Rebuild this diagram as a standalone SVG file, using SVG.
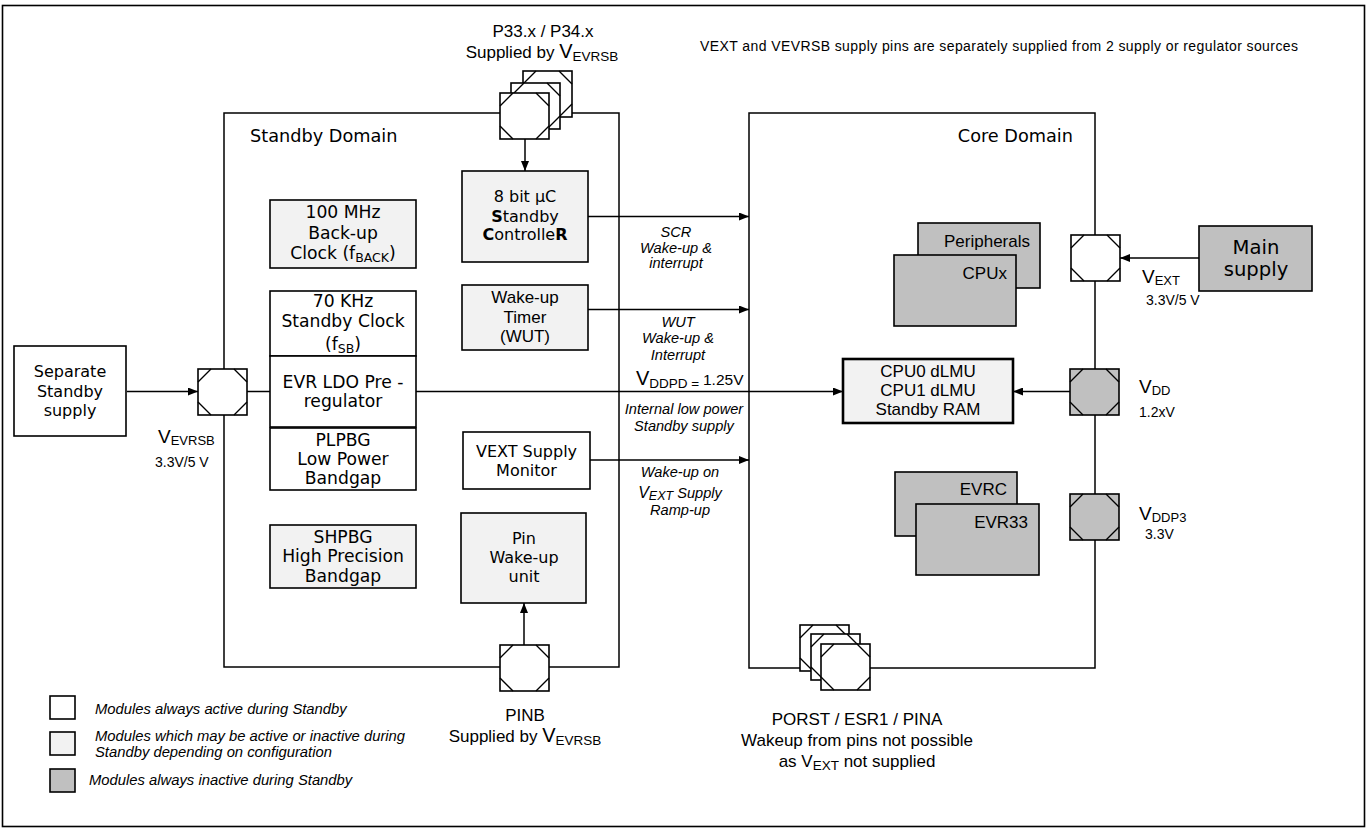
<svg xmlns="http://www.w3.org/2000/svg" width="1370" height="832" viewBox="0 0 1370 832">
<style>
.v{font-family:"DejaVu Sans",Verdana,sans-serif;font-size:16px;fill:#000}
.k{font-size:17.2px}
.t{font-size:17.7px}
.m{font-size:19.6px}
.a{font-family:"Liberation Sans",Arial,sans-serif;font-size:17px;fill:#000}
.i{font-family:"Liberation Sans",Arial,sans-serif;font-size:14.6px;font-style:italic;fill:#000}
.g{font-family:"Liberation Sans",Arial,sans-serif;font-size:14.8px;font-style:italic;fill:#000}
.s{font-family:"Liberation Sans",Arial,sans-serif;font-size:14px;fill:#000}
.c{text-anchor:middle}
.e{text-anchor:end}
.box{stroke:#000;stroke-width:1.6}
.w{fill:#fff}.l{fill:#f2f2f2}.d{fill:#c0c0c0}
.dom{fill:none;stroke:#000;stroke-width:1.5}
.ln{fill:none;stroke:#000;stroke-width:1.5}
</style>
<defs>
<marker id="ah" viewBox="0 0 10 8" refX="10" refY="4" markerWidth="10" markerHeight="8" markerUnits="userSpaceOnUse" orient="auto"><path d="M0,0L10,4L0,8z" fill="#000"/></marker>
<g id="pin"><rect x="0" y="0" width="49" height="46" stroke="#000" stroke-width="1.6"/><path d="M0,13L13,0M36,0L49,13M0,33L13,46M36,46L49,33" stroke="#000" stroke-width="1.4" fill="none"/></g>
</defs>
<rect x="0" y="0" width="1370" height="832" fill="#fff"/>
<rect x="2.5" y="5.5" width="1362" height="821" fill="none" stroke="#000" stroke-width="1.6"/>

<g id="standby-domain"><rect x="224" y="113" width="395" height="554" class="dom"/><text class="v t" x="250" y="142">Standby Domain</text></g>
<g id="core-domain"><rect x="749" y="113" width="346" height="555" class="dom"/><text class="v t e" x="1073" y="142">Core Domain</text></g>

<g id="connectors">
<path class="ln" d="M525,139V171" marker-end="url(#ah)"/>
<path class="ln" d="M588,216.5H749" marker-end="url(#ah)"/>
<path class="ln" d="M588,309.5H749" marker-end="url(#ah)"/>
<path class="ln" d="M590,460H749" marker-end="url(#ah)"/>
<path class="ln" d="M416,391.5H843" marker-end="url(#ah)"/>
<path class="ln" d="M247,391.5H270"/>
<path class="ln" d="M127,391.5H198" marker-end="url(#ah)"/>
<path class="ln" d="M524,645V603" marker-end="url(#ah)"/>
<path class="ln" d="M1199,258H1120" marker-end="url(#ah)"/>
<path class="ln" d="M1070,391.5H1013" marker-end="url(#ah)"/>
</g>

<g id="sep-supply"><rect x="14" y="346" width="112" height="90" class="box w"/><text class="v c" x="70" y="377">Separate</text><text class="v c" x="70" y="397">Standby</text><text class="v c" x="70" y="416">supply</text></g>
<g id="pin-vevrsb"><use href="#pin" x="198" y="369" fill="#fff"/><text class="a" x="158" y="443"><tspan font-size="19">V</tspan><tspan font-size="13" dy="2">EVRSB</tspan></text><text class="s" x="155" y="467">3.3V/5 V</text></g>

<g id="backup-clock"><rect x="270" y="200" width="146" height="68" class="box l"/><text class="v k c" x="343" y="218">100 MHz</text><text class="v k c" x="343" y="239">Back-up</text><text class="v k c" x="343" y="259">Clock (f<tspan font-size="12.5" dy="3">BACK</tspan><tspan dy="-3">)</tspan></text></g>
<g id="standby-clock"><rect x="270" y="291" width="146" height="65" class="box w"/><text class="v k c" x="343" y="307">70 KHz</text><text class="v k c" x="343" y="327">Standby Clock</text><text class="v k c" x="343" y="350">(f<tspan font-size="12.5" dy="3">SB</tspan><tspan dy="-3">)</tspan></text></g>
<g id="evr-ldo"><rect x="270" y="356" width="146" height="71" class="box w"/><text class="v k c" x="343" y="388">EVR LDO Pre -</text><text class="v k c" x="343" y="407">regulator</text></g>
<g id="plpbg"><rect x="270" y="428" width="146" height="62" class="box w"/><text class="v k c" x="343" y="446">PLPBG</text><text class="v k c" x="343" y="465">Low Power</text><text class="v k c" x="343" y="484">Bandgap</text></g>
<g id="shpbg"><rect x="270" y="525" width="146" height="63" class="box l"/><text class="v k c" x="343" y="543">SHPBG</text><text class="v k c" x="343" y="562">High Precision</text><text class="v k c" x="343" y="582">Bandgap</text></g>
<g id="scr"><rect x="462" y="171" width="126" height="91" class="box l"/><text class="v c" x="525" y="202">8 bit µC</text><text class="v c" x="525" y="222"><tspan font-weight="bold">S</tspan>tandby</text><text class="v c" x="525" y="240"><tspan font-weight="bold">C</tspan>ontrolle<tspan font-weight="bold">R</tspan></text></g>
<g id="wut"><rect x="462" y="285" width="126" height="65" class="box l"/><text class="a c" x="525" y="303">Wake-up</text><text class="a c" x="525" y="323">Timer</text><text class="a c" x="525" y="342">(WUT)</text></g>
<g id="vext-monitor"><rect x="463" y="432" width="127" height="57" class="box w"/><text class="v c" x="526.5" y="457">VEXT Supply</text><text class="v c" x="526.5" y="476">Monitor</text></g>
<g id="pin-wakeup"><rect x="461" y="513" width="125" height="90" class="box l"/><text class="v c" x="524" y="544">Pin</text><text class="v c" x="524" y="563">Wake-up</text><text class="v c" x="524" y="582">unit</text></g>

<g id="pins-p33"><use href="#pin" x="523" y="71" fill="#fff"/><use href="#pin" x="511" y="83" fill="#fff"/><use href="#pin" x="500" y="93" fill="#fff"/>
<text class="a c" x="543" y="37">P33.x / P34.x</text><text class="a c" x="542" y="58">Supplied by <tspan font-size="20">V</tspan><tspan font-size="13.5" dy="3">EVRSB</tspan></text></g>
<g id="pin-pinb"><use href="#pin" x="500" y="645" fill="#fff"/><text class="a c" x="525" y="721">PINB</text><text class="a c" x="525" y="742">Supplied by <tspan font-size="20">V</tspan><tspan font-size="13.5" dy="3">EVRSB</tspan></text></g>

<g id="peripherals"><rect x="918" y="223" width="122" height="65" class="box d"/><text class="a e" x="1030" y="247">Peripherals</text></g>
<g id="cpux"><rect x="894" y="255" width="122" height="71" class="box d"/><text class="a e" x="1007" y="279">CPUx</text></g>
<g id="dlmu"><rect x="843" y="359" width="170" height="64" fill="#f2f2f2" stroke="#000" stroke-width="2.6"/><text class="a c" x="928" y="377">CPU0 dLMU</text><text class="a c" x="928" y="396">CPU1 dLMU</text><text class="a c" x="928" y="415">Standby RAM</text></g>
<g id="evrc"><rect x="895" y="472" width="122" height="64" class="box d"/><text class="a e" x="1007" y="495">EVRC</text></g>
<g id="evr33"><rect x="916" y="504" width="123" height="71" class="box d"/><text class="a e" x="1028" y="528">EVR33</text></g>
<g id="main-supply"><rect x="1199" y="226" width="113" height="65" class="box d"/><text class="v m c" x="1256" y="254">Main</text><text class="v m c" x="1256" y="276">supply</text></g>
<g id="pin-vext"><use href="#pin" x="1071" y="235" fill="#fff"/><text class="a" x="1142" y="283"><tspan font-size="19">V</tspan><tspan font-size="13" dy="2">EXT</tspan></text><text class="s" x="1146" y="305">3.3V/5 V</text></g>
<g id="pin-vdd"><use href="#pin" x="1070" y="369" fill="#c0c0c0"/><text class="a" x="1139" y="393"><tspan font-size="19">V</tspan><tspan font-size="13" dy="2">DD</tspan></text><text class="s" x="1139" y="417">1.2xV</text></g>
<g id="pin-vddp3"><use href="#pin" x="1070" y="494" fill="#c0c0c0"/><text class="a" x="1139" y="520"><tspan font-size="19">V</tspan><tspan font-size="13" dy="2">DDP3</tspan></text><text class="s" x="1145" y="539">3.3V</text></g>
<g id="pins-porst"><use href="#pin" x="800" y="625" fill="#fff"/><use href="#pin" x="811" y="634" fill="#fff"/><use href="#pin" x="821" y="644" fill="#fff"/>
<text class="a c" x="857" y="725">PORST / ESR1 / PINA</text><text class="a c" x="857" y="746">Wakeup from pins not possible</text><text class="a c" x="857" y="767">as V<tspan font-size="13.5" dy="3">EXT</tspan><tspan dy="-3"> not supplied</tspan></text></g>

<g id="labels">
<text class="i c" x="676" y="237">SCR</text><text class="i c" x="676" y="253">Wake-up &amp;</text><text class="i c" x="676" y="268">interrupt</text>
<text class="i c" x="678" y="327">WUT</text><text class="i c" x="678" y="343">Wake-up &amp;</text><text class="i c" x="678" y="360">Interrupt</text>
<text class="a" x="636" y="385"><tspan font-size="20">V</tspan><tspan font-size="13.5" dy="3">DDPD = </tspan><tspan font-size="15.5" dy="-3">1.25V</tspan></text>
<text class="i c" x="684" y="414">Internal low power</text><text class="i c" x="684" y="431">Standby  supply</text>
<text class="i c" x="680" y="477">Wake-up on</text><text class="i c" x="680" y="498"><tspan font-size="16">V</tspan><tspan font-size="12.5" dy="2">EXT</tspan><tspan dy="-2"> Supply</tspan></text><text class="i c" x="680" y="515">Ramp-up</text>
<text class="s" x="700" y="51" textLength="598" lengthAdjust="spacing">VEXT and VEVRSB supply pins are separately supplied from 2 supply or regulator sources</text>
</g>

<g id="legend">
<rect x="50" y="696" width="25" height="23" class="box w"/><text class="g" x="95" y="714">Modules always active during Standby</text>
<rect x="50" y="732" width="25" height="23" class="box l"/><text class="g" x="95" y="741">Modules which may be active or inactive during</text><text class="g" x="95" y="757">Standby depending on configuration</text>
<rect x="50" y="769" width="25" height="23" class="box d"/><text class="g" x="89" y="785">Modules always inactive during Standby</text>
</g>
</svg>
